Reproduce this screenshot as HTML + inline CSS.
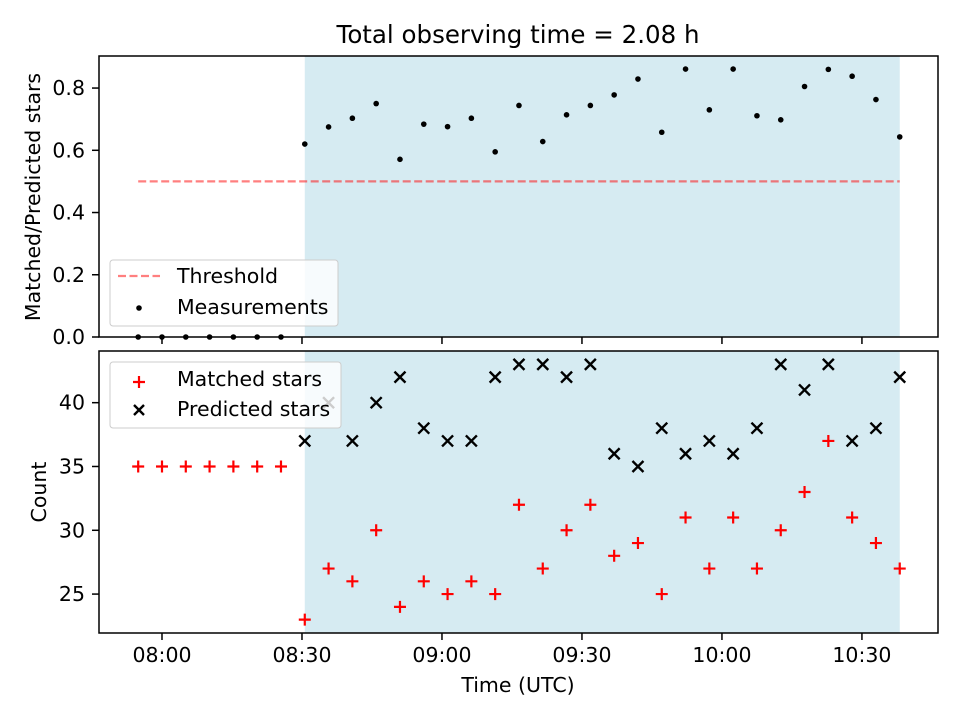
<!DOCTYPE html>
<html><head><meta charset="utf-8"><style>
body{margin:0;background:#fff}
svg{display:block;font-family:"DejaVu Sans","Liberation Sans",sans-serif}
</style></head><body>
<svg id="c" width="960" height="720" viewBox="0 0 960 720"></svg>
<script>
const times=[474.9,480,485.1,490.2,495.3,500.4,505.5,510.6,515.7,520.8,525.9,531,536.1,541.2,546.3,551.4,556.5,561.6,566.7,571.8,576.9,582,587.1,592.2,597.3,602.4,607.5,612.6,617.7,622.8,627.9,633,638.1];
const ratio=[0,0,0,0,0,0,0,0.62,0.675,0.703,0.75,0.571,0.684,0.676,0.703,0.595,0.744,0.628,0.714,0.744,0.778,0.829,0.658,0.861,0.73,0.861,0.711,0.698,0.805,0.86,0.838,0.763,0.643];
const matched=[35,35,35,35,35,35,35,23,27,26,30,24,26,25,26,25,32,27,30,32,28,29,25,31,27,31,27,30,33,37,31,29,27];
const predicted=[null,null,null,null,null,null,null,37,40,37,40,42,38,37,37,42,43,43,42,43,36,35,38,36,37,36,38,43,41,43,37,38,42];
const threshold=0.5;
const shadeStart=510.6, shadeEnd=638.1;
const xTicks=[480,510,540,570,600,630];
const xTickLabels=["08:00","08:30","09:00","09:30","10:00","10:30"];
const topTicks=[0,0.2,0.4,0.6,0.8];
const botTicks=[25,30,35,40];

const NS="http://www.w3.org/2000/svg";
const svg=document.getElementById('c');
function el(t,a,p){const e=document.createElementNS(NS,t);for(const k in a)e.setAttribute(k,a[k]);(p||svg).appendChild(e);return e;}
const L=99,R=938;
const X=v=>L+(v-466.5)/(646.3-466.5)*(R-L);
const T1=56,B1=337,T2=351,B2=633;
const Y1=v=>B1-(v-0)/(0.903)*(B1-T1);
const Y2=v=>B2-(v-21.95)/(44.05-21.95)*(B2-T2);

let s1=el('rect',{x:X(shadeStart),y:T1,width:X(shadeEnd)-X(shadeStart),height:B1-T1,fill:'rgba(173,216,230,0.5)'});


let s2=el('rect',{x:X(shadeStart),y:T2,width:X(shadeEnd)-X(shadeStart),height:B2-T2,fill:'rgba(173,216,230,0.5)'});



let th=el('line',{x1:X(times[0]),x2:X(times[times.length-1]),y1:Y1(threshold),y2:Y1(threshold),stroke:'rgba(255,0,0,0.5)','stroke-width':2.2,'stroke-dasharray':'8,3.5'});



times.forEach((t,i)=>{
  const c=el('circle',{cx:X(t),cy:Y1(ratio[i]),r:2.8,fill:'#000'});
  
  
});
function plus(x,y,col,g){el('path',{d:`M${x-6},${y}H${x+6}M${x},${y-6}V${y+6}`,stroke:col,'stroke-width':2.2},g);}
function cross(x,y,col,g){el('path',{d:`M${x-5.5},${y-5.5}L${x+5.5},${y+5.5}M${x-5.5},${y+5.5}L${x+5.5},${y-5.5}`,stroke:col,'stroke-width':2.4},g);}
times.forEach((t,i)=>{
  const g=el('g',{});
  
  
  plus(X(t),Y2(matched[i]),'#f00',g);
  if(predicted[i]!==null){
    const g2=el('g',{});
    
    
    cross(X(t),Y2(predicted[i]),'#000',g2);
  }
});

function frame(T,B,name){
  const r=el('rect',{x:L,y:T,width:R-L,height:B-T,fill:'none',stroke:'#000','stroke-width':1.5});
  
  
  xTicks.forEach(v=>el('line',{x1:X(v),x2:X(v),y1:B,y2:B+7,stroke:'#000','stroke-width':1.5}));
}
frame(T1,B1,'top-axes-frame');
frame(T2,B2,'bottom-axes-frame');
topTicks.forEach(v=>{
  el('line',{x1:L-7,x2:L,y1:Y1(v),y2:Y1(v),stroke:'#000','stroke-width':1.5});
  const t=el('text',{x:L-14,y:Y1(v)+7,'text-anchor':'end','font-size':20.5});t.textContent=v.toFixed(1);
  
  
});
botTicks.forEach(v=>{
  el('line',{x1:L-7,x2:L,y1:Y2(v),y2:Y2(v),stroke:'#000','stroke-width':1.5});
  const t=el('text',{x:L-14,y:Y2(v)+7,'text-anchor':'end','font-size':20.5});t.textContent=v;
  
  
});
xTicks.forEach((v,i)=>{
  const t=el('text',{x:X(v),y:B2+29,'text-anchor':'middle','font-size':20.5});t.textContent=xTickLabels[i];
  
  
});
</script>
<svg width="960" height="720" viewBox="0 0 960 720" style="position:absolute;left:0;top:0;font-family:'DejaVu Sans','Liberation Sans',sans-serif">
<text x="518" y="43" text-anchor="middle" font-size="24.5">Total observing time = 2.08 h</text>
<text x="518" y="692" text-anchor="middle" font-size="20.5">Time (UTC)</text>
<text transform="translate(40,197) rotate(-90)" text-anchor="middle" font-size="20.5">Matched/Predicted stars</text>
<text transform="translate(46,492) rotate(-90)" text-anchor="middle" font-size="20.5">Count</text>
<g>
<rect x="110" y="260" width="228" height="66" rx="3" fill="rgba(255,255,255,0.8)" stroke="#ccc"/>
<line x1="118" x2="160" y1="276" y2="276" stroke="rgba(255,0,0,0.5)" stroke-width="2.2" stroke-dasharray="8,3.5"/>
<text x="177" y="283" font-size="20.5">Threshold</text>
<circle cx="139" cy="308" r="2.8" fill="#000"/>
<text x="177" y="314" font-size="20.5">Measurements</text>
</g>
<g>
<rect x="110" y="362" width="231" height="66" rx="3" fill="rgba(255,255,255,0.8)" stroke="#ccc"/>
<path d="M133,382H145M139,376V388" stroke="#f00" stroke-width="2.2"/>
<text x="177" y="386" font-size="20.5">Matched stars</text>
<path d="M134,405L144,415M134,415L144,405" stroke="#000" stroke-width="2.4"/>
<text x="177" y="416" font-size="20.5">Predicted stars</text>
</g>
</svg>
</body></html>
